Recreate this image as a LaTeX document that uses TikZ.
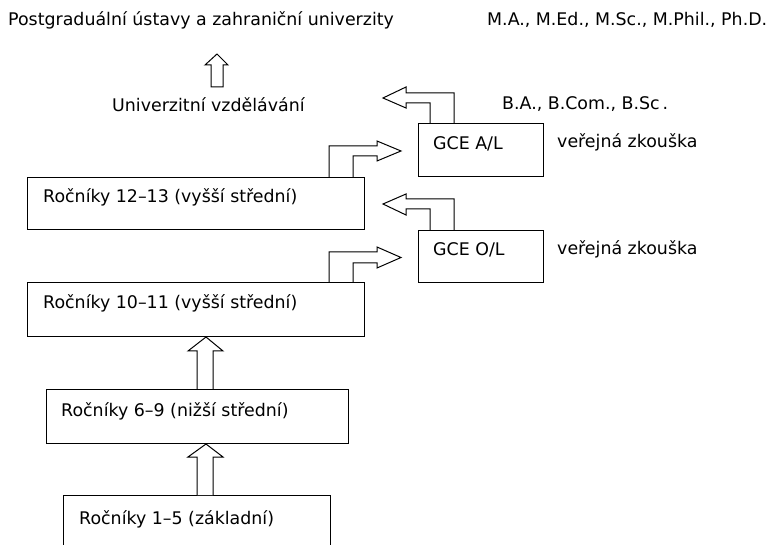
\documentclass[tikz,border=0pt]{standalone}
\usepackage{fontspec}
\setmainfont{DejaVu Sans}
\usetikzlibrary{calc}
\begin{document}
\begin{tikzpicture}[x=1pt,y=-1pt,
  lbl/.style={inner sep=0pt,anchor=base west,font=\fontsize{17.4}{20}\selectfont},
  box/.style={draw,line width=1pt,minimum width=#1,anchor=north west,inner sep=0pt},
  blk/.style={draw,line width=1pt,fill=white,line join=miter}]
\useasboundingbox (0,0) rectangle (769,545);
% boxes
\node[box=337pt,minimum height=52pt] (b1213) at (27,177) {};
\node[box=337pt,minimum height=54pt] (b1011) at (27,282) {};
\node[box=302pt,minimum height=54pt] (b69) at (46,389) {};
\node[box=125pt,minimum height=53pt] (gceA) at (418,123) {};
\node[box=125pt,minimum height=52pt] (gceO) at (418,230) {};
\coordinate (b15nw) at (63,495);
\coordinate (b15ne) at (330,495);
\draw[line width=1pt] (b15nw |- 0,550) -- (b15nw) -- (b15ne) -- (b15ne |- 0,550);
% texts
\node[lbl] (tpost) at (8,26) {Postgraduální ústavy a zahraniční univerzity};
\node[lbl] (tma) at (487,26) {M.A., M.Ed., M.Sc., M.Phil., Ph.D.};
\node[lbl] (tuni) at (112,112) {Univerzitní vzdělávání};
\node[lbl] (tba) at (502,110) {B.A., B.Com., B.Sc\,.};
\node[lbl] (tgA) at (433,150) {GCE A/L};
\node[lbl] (tgO) at (433,256) {GCE O/L};
\node[lbl] (tvA) at (557,148) {veřejná zkouška};
\node[lbl] (tvO) at (557,255) {veřejná zkouška};
\node[lbl] (t1213) at (43,203) {Ročníky 12–13 (vyšší střední)};
\node[lbl] (t1011) at (43,309) {Ročníky 10–11 (vyšší střední)};
\node[lbl] (t69) at (61,417) {Ročníky 6–9 (nižší střední)};
\node[lbl] (t15) at (79,524) {Ročníky 1–5 (základní)};
% top hollow arrow
\draw[blk] (211,87) -- (211,65) -- (205,65) -- (217,54) -- (228,65) -- (223,65) -- (223,87) -- cycle;
% up arrows between grade boxes
\draw[blk] (197,0 |- b69.north) -- (197,351) -- (188,351) -- (b1011.south -| 206,0) -- (223,351) -- (213,351) -- (213,0 |- b69.north);
\draw[blk] (197,0 |- b15nw) -- (197,457) -- (188,457) -- (b69.south -| 206,0) -- (223,457) -- (213,457) -- (213,0 |- b15nw);
% bent arrows to GCE boxes
\draw[blk] (329,0 |- b1213.north) -- (329,146) -- (377,146) -- (377,141) -- (401,151) -- (377,161) -- (377,156) -- (353,156) -- (353,0 |- b1213.north);
\draw[blk] (329,0 |- b1011.north) -- (329,252) -- (377,252) -- (377,247) -- (401,257.5) -- (377,268) -- (377,263) -- (353,263) -- (353,0 |- b1011.north);
% bent arrows from GCE boxes
\draw[blk] (454,0 |- gceA.north) -- (454,93) -- (406,93) -- (406,87) -- (383,98) -- (406,108) -- (406,103) -- (430,103) -- (430,0 |- gceA.north);
\draw[blk] (454,0 |- gceO.north) -- (454,199) -- (406,199) -- (406,194) -- (383,204) -- (406,215) -- (406,209) -- (430,209) -- (430,0 |- gceO.north);
\end{tikzpicture}
\end{document}
